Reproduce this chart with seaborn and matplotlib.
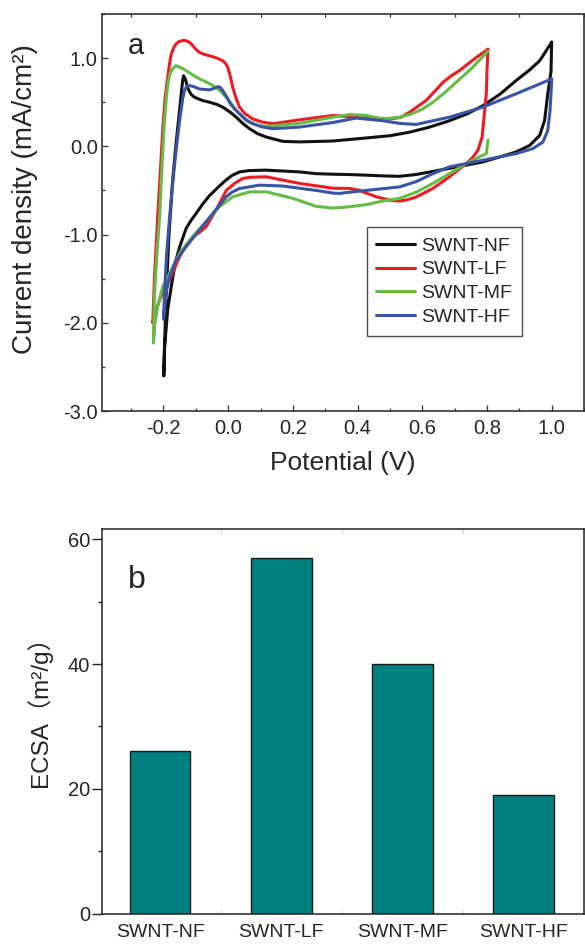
import numpy as np
import pandas as pd
import matplotlib
matplotlib.use("Agg")
import matplotlib.pyplot as plt
from matplotlib.ticker import MultipleLocator, FixedLocator
import seaborn as sns

# ---- cyclic voltammograms (potential in V, current density in mA/cm2) ----
NF_E = [1.0, 0.998, 0.988, 0.978, 0.963, 0.932, 0.89, 0.84, 0.787, 0.684, 0.58, 0.53,
        0.478, 0.427, 0.375, 0.323, 0.272, 0.22, 0.118, 0.065, 0.035, 0.012, -0.006, -0.03,
        -0.058, -0.08, -0.099, -0.115, -0.13, -0.15, -0.162, -0.171, -0.187, -0.197, -0.199,
        -0.197, -0.192, -0.183, -0.172, -0.162, -0.152, -0.145, -0.141, -0.138, -0.132,
        -0.125, -0.115, -0.104, -0.08, -0.058, -0.035, -0.017, 0.005, 0.025, 0.045, 0.066,
        0.09, 0.118, 0.169, 0.22, 0.323, 0.427, 0.5, 0.56, 0.62, 0.684, 0.74, 0.787, 0.84,
        0.89, 0.93, 0.963, 1.0]
NF_J = [1.18, 0.85, 0.595, 0.29, 0.124, 0.01, -0.064, -0.12, -0.177, -0.25, -0.32, -0.34,
        -0.335, -0.327, -0.32, -0.316, -0.31, -0.29, -0.27, -0.275, -0.29, -0.33, -0.38, -0.46,
        -0.56, -0.66, -0.76, -0.84, -0.93, -1.14, -1.3, -1.475, -1.85, -2.30, -2.60,
        -2.3, -1.7, -1.0, -0.4, 0.0, 0.35, 0.6, 0.74, 0.80, 0.76,
        0.66, 0.59, 0.556, 0.52, 0.50, 0.475, 0.444, 0.39, 0.33, 0.26, 0.20,
        0.145, 0.105, 0.056, 0.05, 0.06, 0.095, 0.12, 0.16, 0.215, 0.29, 0.37, 0.46, 0.59,
        0.745, 0.86, 0.97, 1.18]

LF_E = [0.803, 0.80, 0.798, 0.793, 0.785, 0.772, 0.755, 0.736, 0.684, 0.633, 0.581, 0.555,
        0.53, 0.499, 0.458, 0.427, 0.406, 0.375, 0.324, 0.22, 0.118, 0.07, 0.045, 0.02, -0.006,
        -0.02, -0.037, -0.05, -0.068, -0.09, -0.109, -0.13, -0.15, -0.181, -0.207, -0.223, -0.233,
        -0.228, -0.218, -0.21, -0.202, -0.195, -0.187, -0.182, -0.176, -0.168, -0.161, -0.153,
        -0.145, -0.137, -0.13, -0.122, -0.114, -0.1, -0.089, -0.072, -0.058, -0.035, -0.017,
        -0.008, -0.001, 0.006, 0.014, 0.024, 0.035, 0.052, 0.076, 0.105, 0.138, 0.22, 0.324,
        0.427, 0.5, 0.535, 0.561, 0.585, 0.612, 0.64, 0.664, 0.69, 0.715, 0.767, 0.803]
LF_J = [1.10, 0.85, 0.6, 0.406, 0.105, -0.045, -0.13, -0.195, -0.346, -0.477, -0.575, -0.605,
        -0.62, -0.61, -0.572, -0.53, -0.50, -0.477, -0.475, -0.42, -0.346, -0.35, -0.365, -0.42,
        -0.5, -0.6, -0.72, -0.8, -0.91, -0.98, -1.02, -1.12, -1.25, -1.51, -1.70, -1.85, -2.0,
        -1.5, -0.8, -0.3, 0.2, 0.55, 0.78, 0.92, 1.046, 1.12, 1.16, 1.185,
        1.195, 1.2, 1.196, 1.185, 1.16, 1.1, 1.064, 1.04, 1.027, 1.0, 0.97,
        0.94, 0.895, 0.8, 0.67, 0.55, 0.444, 0.37, 0.31, 0.275, 0.256, 0.30, 0.35,
        0.32, 0.31, 0.33, 0.387, 0.45, 0.52, 0.63, 0.726, 0.8, 0.858, 1.008, 1.10]

MF_E = [0.803, 0.798, 0.777, 0.736, 0.684, 0.633, 0.581, 0.53, 0.478, 0.427, 0.375, 0.324,
        0.272, 0.2, 0.118, 0.066, 0.014, -0.027, -0.068, -0.109, -0.15, -0.181, -0.202,
        -0.218, -0.228, -0.231,
        -0.228, -0.22, -0.212, -0.207, -0.202, -0.197, -0.19, -0.185, -0.18, -0.172, -0.161,
        -0.145, -0.13, -0.11, -0.089, -0.068, -0.048, -0.025, -0.006, 0.01, 0.025, 0.045,
        0.066, 0.09, 0.118, 0.22, 0.324, 0.375, 0.427, 0.478, 0.53, 0.561, 0.6, 0.633,
        0.67, 0.705, 0.756, 0.803]
MF_J = [0.07, -0.083, -0.12, -0.195, -0.31, -0.42, -0.52, -0.59, -0.62, -0.66, -0.685, -0.70,
        -0.68, -0.59, -0.516, -0.516, -0.572, -0.685, -0.854, -1.02, -1.21, -1.44, -1.59,
        -1.81, -2.04, -2.23,
        -1.7, -1.2, -0.8, -0.4, -0.045, 0.3, 0.6, 0.74, 0.82, 0.88, 0.914,
        0.89, 0.858, 0.81, 0.764, 0.73, 0.69, 0.63, 0.556, 0.48, 0.406, 0.33,
        0.274, 0.24, 0.226, 0.26, 0.33, 0.36, 0.35, 0.31, 0.33, 0.36, 0.42, 0.50,
        0.61, 0.726, 0.895, 1.08]

HF_E = [1.0, 0.998, 0.995, 0.988, 0.973, 0.942, 0.89, 0.787, 0.684, 0.633, 0.581, 0.53,
        0.478, 0.427, 0.375, 0.344, 0.324, 0.272, 0.169, 0.097, 0.035, 0.012, -0.006, -0.025,
        -0.047, -0.089, -0.13, -0.161, -0.181, -0.192, -0.197, -0.2,
        -0.196, -0.19, -0.181, -0.171, -0.161, -0.15, -0.14, -0.135, -0.13, -0.125, -0.115,
        -0.105, -0.089, -0.058, -0.045, -0.032, -0.025, -0.017, -0.006, 0.004, 0.018, 0.035,
        0.055, 0.076, 0.105, 0.138, 0.22, 0.324, 0.396, 0.478, 0.53, 0.581, 0.684, 0.787,
        0.89, 1.0]
HF_J = [0.764, 0.6, 0.406, 0.18, 0.048, -0.026, -0.083, -0.158, -0.233, -0.31, -0.40, -0.46,
        -0.48, -0.50, -0.52, -0.534, -0.53, -0.5, -0.45, -0.44, -0.478, -0.52, -0.572, -0.66,
        -0.76, -0.948, -1.137, -1.29, -1.475, -1.66, -1.85, -1.96,
        -1.6, -1.2, -0.8, -0.4, -0.045, 0.3, 0.55, 0.63, 0.67, 0.69, 0.685,
        0.675, 0.65, 0.64, 0.655, 0.677, 0.67, 0.632, 0.57, 0.50, 0.43, 0.37,
        0.3, 0.256, 0.22, 0.2, 0.218, 0.27, 0.32, 0.29, 0.26, 0.248, 0.33, 0.444,
        0.595, 0.764]

SAMPLES = ["SWNT-NF", "SWNT-LF", "SWNT-MF", "SWNT-HF"]
ECSA = [26, 57, 40, 19]

CV_COLORS = {"SWNT-NF": "#111111", "SWNT-LF": "#ed1c24",
             "SWNT-MF": "#66bb44", "SWNT-HF": "#3a54a5"}
BAR_COLOR = "#008080"

sns.set_style("white")
plt.rcParams["font.family"] = ["Liberation Sans", "Noto Sans CJK SC", "DejaVu Sans"]
plt.rcParams["axes.unicode_minus"] = False

frames = []
for name, e, j in zip(SAMPLES, [NF_E, LF_E, MF_E, HF_E], [NF_J, LF_J, MF_J, HF_J]):
    frames.append(pd.DataFrame({"sample": name, "E": e, "J": j, "step": np.arange(len(e))}))
cv = pd.concat(frames, ignore_index=True)

fig = plt.figure(figsize=(5.85, 9.44), dpi=100)
ax1 = fig.add_axes([0.1744, 0.5646, 0.8239, 0.4206])
ax2 = fig.add_axes([0.1744, 0.0318, 0.8239, 0.4078])

# ---- panel a: CV curves ----
sns.lineplot(data=cv, x="E", y="J", hue="sample", hue_order=SAMPLES, palette=CV_COLORS,
             sort=False, estimator=None, units="sample", lw=2.2,
             solid_joinstyle="round", solid_capstyle="round", ax=ax1)
ax1.set_xlim(-0.39, 1.1)
ax1.set_ylim(-3.0, 1.5)
ax1.xaxis.set_major_locator(FixedLocator([-0.2, 0.0, 0.2, 0.4, 0.6, 0.8, 1.0]))
ax1.xaxis.set_minor_locator(MultipleLocator(0.1))
ax1.yaxis.set_major_locator(FixedLocator([-3.0, -2.0, -1.0, 0.0, 1.0]))
ax1.yaxis.set_minor_locator(MultipleLocator(0.5))
ax1.xaxis.set_major_formatter(plt.FormatStrFormatter("%.1f"))
ax1.yaxis.set_major_formatter(plt.FormatStrFormatter("%.1f"))
ax1.tick_params(axis="x", which="major", direction="in", length=4.5, width=0.9,
                color="#333333", labelsize=14.5, pad=6, bottom=True, top=False)
ax1.tick_params(axis="x", which="minor", direction="in", length=2.2, width=0.9,
                color="#333333", bottom=True, top=True)
ax1.tick_params(axis="y", which="major", direction="in", length=4.5, width=0.9,
                color="#333333", labelsize=14.5, pad=3, left=True)
ax1.tick_params(axis="y", which="minor", direction="in", length=2.5, width=0.9,
                color="#333333", left=True)
for sp in ax1.spines.values():
    sp.set_color("#333333")
    sp.set_linewidth(1.2)
ax1.set_xlabel("Potential (V)", fontsize=19, labelpad=9)
ax1.set_ylabel("Current density (mA/cm²)", fontsize=20)
ax1.yaxis.set_label_coords(-0.133, 0.535)
ax1.text(0.054, 0.92, "a", transform=ax1.transAxes, fontsize=21, va="center", ha="left")
leg = ax1.legend(loc="upper left", bbox_to_anchor=(0.549, 0.463), borderaxespad=0,
                 fontsize=14, frameon=True, fancybox=False, edgecolor="#222222",
                 handlelength=2.0, handletextpad=0.3, labelspacing=0.32, borderpad=0.5,
                 title=None)
leg.get_frame().set_linewidth(1.0)
for h in leg.legend_handles:
    h.set_linewidth(2.2)

# ---- panel b: ECSA bars ----
sns.barplot(x=SAMPLES, y=ECSA, color=BAR_COLOR, saturation=1, width=0.5,
            edgecolor="#1a1a1a", linewidth=1.0, ax=ax2)
ax2.set_xlim(-0.48, 3.5)
ax2.set_ylim(0, 61.6)
ax2.yaxis.set_major_locator(FixedLocator([0, 20, 40, 60]))
ax2.yaxis.set_minor_locator(MultipleLocator(10))
ax2.xaxis.set_minor_locator(MultipleLocator(0.5))
ax2.tick_params(axis="y", which="major", direction="out", length=7, width=1.0,
                color="#222222", labelsize=14.5, pad=1.5, left=True)
ax2.tick_params(axis="y", which="minor", direction="out", length=3, width=1.0,
                color="#222222", left=True)
ax2.tick_params(axis="x", which="major", length=0, labelsize=14, pad=7)
ax2.tick_params(axis="x", which="minor", direction="in", length=3, width=0.6,
                color="#c8c8c8", bottom=True, top=True)
for sp in ax2.spines.values():
    sp.set_color("#222222")
    sp.set_linewidth(1.1)
ax2.set_xlabel("")
ax2.set_ylabel("ECSA（m²/g）", fontsize=17.5)
ax2.yaxis.set_label_coords(-0.104, 0.542)
ax2.text(0.054, 0.868, "b", transform=ax2.transAxes, fontsize=23, va="center", ha="left")

fig.savefig("out.png", dpi=100)
